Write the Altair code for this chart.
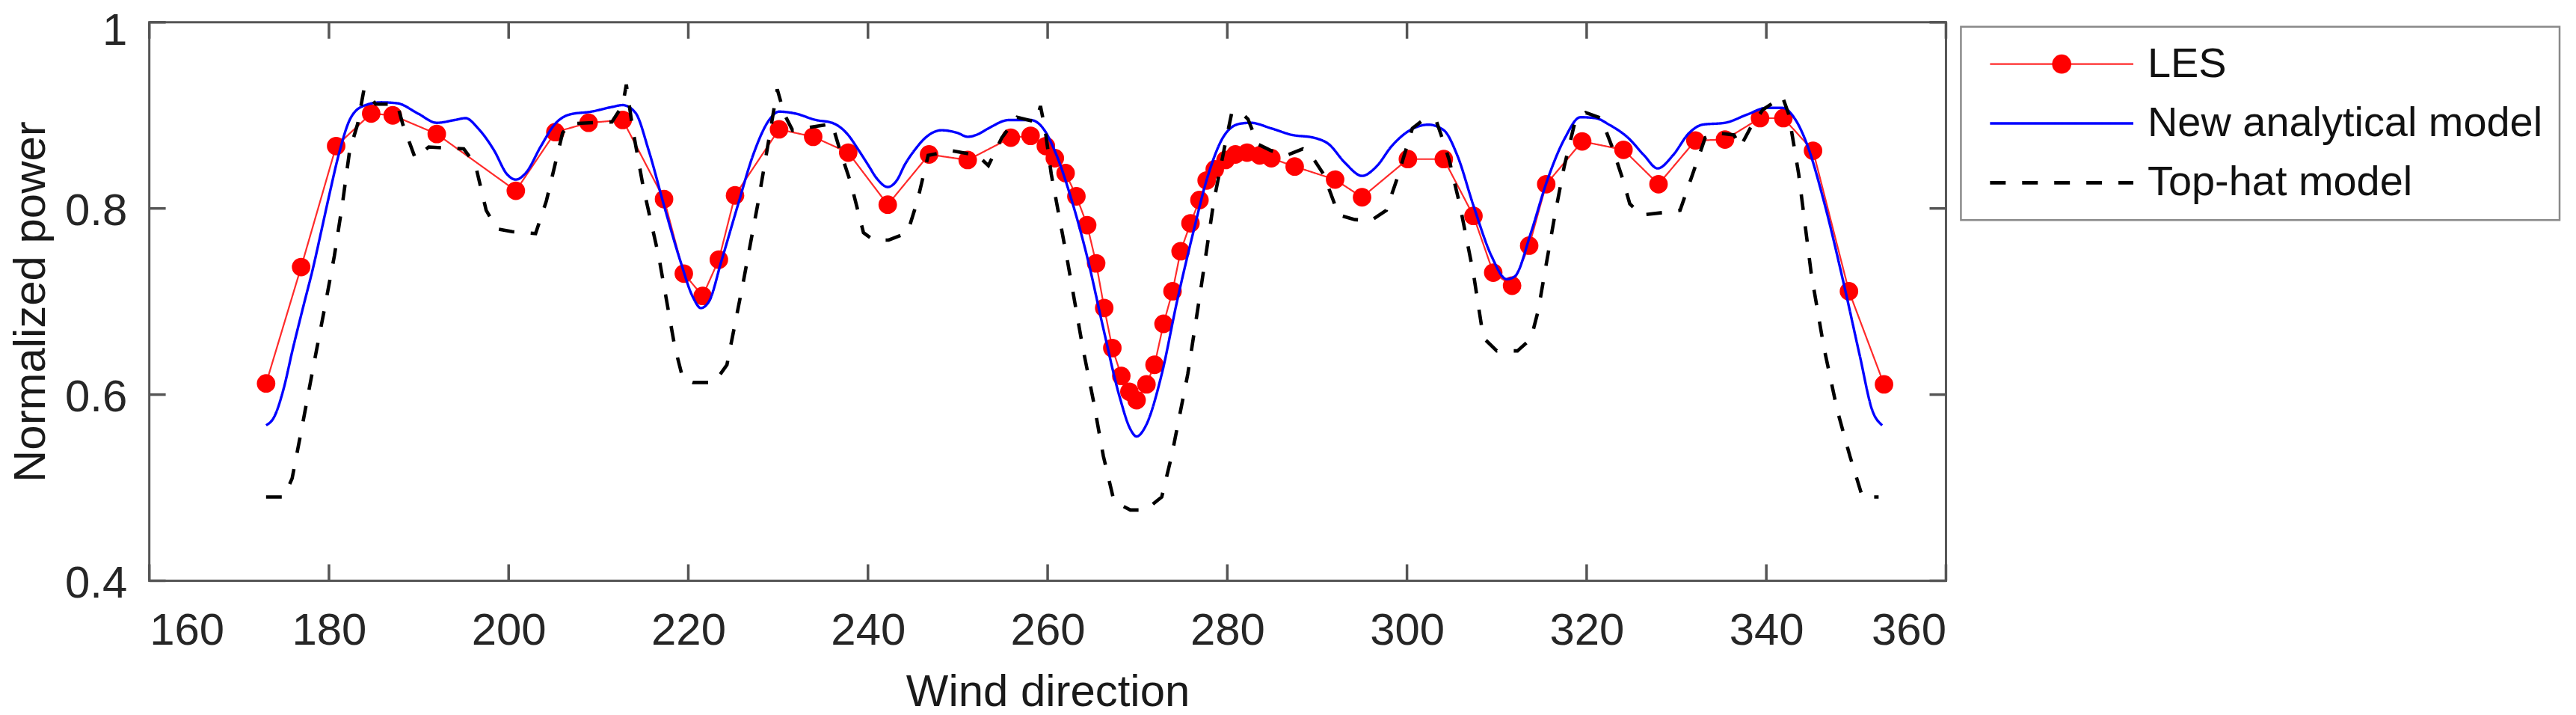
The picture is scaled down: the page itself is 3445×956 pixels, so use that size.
import altair as alt
import pandas as pd

SERIES = ["LES", "New analytical model", "Top-hat model"]
COLORS = ["#ff2a2a", "#0000ff", "#000000"]

LES_DIR = [173.0, 176.9, 180.8, 184.7, 187.1, 192.0, 200.8, 205.2, 208.9, 212.7,
           217.3, 219.5, 221.6, 223.4, 225.2, 230.1, 233.9, 237.8, 242.2, 246.8,
           251.1, 255.9, 258.1, 259.8, 260.8, 262.0, 263.2, 264.4, 265.4, 266.3,
           267.2, 268.2, 269.1, 269.9, 271.0, 271.9, 272.9, 273.9, 274.8, 275.9,
           276.9, 277.7, 278.6, 279.8, 280.9, 282.2, 283.6, 284.9, 287.5, 292.0,
           295.0, 300.1, 304.1, 307.4, 309.6, 311.7, 313.6, 315.5, 319.5, 324.1,
           328.0, 332.1, 335.4, 339.3, 341.9, 345.2, 349.2, 353.1]
LES_VAL = [0.612, 0.737, 0.867, 0.902, 0.900, 0.880, 0.819, 0.882, 0.892, 0.895,
           0.810, 0.730, 0.706, 0.745, 0.814, 0.885, 0.877, 0.860, 0.804, 0.858,
           0.852, 0.876, 0.878, 0.867, 0.854, 0.838, 0.813, 0.782, 0.741, 0.693,
           0.650, 0.620, 0.603, 0.594, 0.611, 0.632, 0.676, 0.711, 0.754, 0.784,
           0.809, 0.830, 0.842, 0.852, 0.858, 0.860, 0.857, 0.854, 0.845, 0.831,
           0.812, 0.853, 0.853, 0.792, 0.731, 0.717, 0.760, 0.826, 0.872, 0.863,
           0.826, 0.873, 0.874, 0.897, 0.897, 0.862, 0.711, 0.611]

NEW_DIR = [173.0, 173.9, 175.0, 175.9, 177.1, 178.3, 179.2, 180.0, 181.2, 182.3,
           183.8, 185.8, 187.6, 189.9, 192.0, 194.0, 195.2, 196.6, 198.4, 199.8,
           200.8, 201.9, 203.6, 205.1, 206.8, 209.2, 211.5, 212.7, 214.1, 215.6,
           217.3, 219.1, 220.5, 221.4, 222.3, 223.7, 225.5, 227.2, 229.0, 230.1,
           231.9, 234.2, 236.0, 237.7, 239.0, 240.0, 241.0, 242.2, 243.2, 244.1,
           245.3, 246.4, 248.2, 250.0, 251.1, 252.3, 253.4, 255.7, 258.1, 259.5,
           261.0, 262.7, 264.5, 266.2, 268.0, 269.2, 269.9, 270.9, 272.7, 274.4,
           276.2, 277.9, 279.7, 281.4, 282.6, 284.9, 287.2, 289.6, 291.3, 293.1,
           295.0, 296.6, 298.3, 300.7, 302.4, 304.1, 305.6, 307.4, 309.4, 311.1,
           312.0, 313.8, 315.5, 317.6, 319.3, 321.0, 322.5, 324.6, 326.4, 327.9,
           329.6, 331.4, 332.9, 335.4, 337.9, 340.0, 341.8, 343.2, 344.6, 346.4,
           348.6, 350.4, 351.8, 352.9]
NEW_VAL = [0.567, 0.576, 0.608, 0.646, 0.693, 0.739, 0.778, 0.813, 0.862, 0.895,
           0.910, 0.914, 0.913, 0.902, 0.892, 0.895, 0.897, 0.886, 0.862, 0.837,
           0.831, 0.838, 0.867, 0.890, 0.901, 0.904, 0.909, 0.911, 0.903, 0.862,
           0.803, 0.744, 0.705, 0.693, 0.700, 0.744, 0.803, 0.857, 0.895, 0.904,
           0.902, 0.895, 0.892, 0.880, 0.862, 0.847, 0.832, 0.823, 0.830, 0.847,
           0.864, 0.876, 0.884, 0.881, 0.877, 0.880, 0.886, 0.895, 0.895, 0.886,
           0.857, 0.808, 0.744, 0.671, 0.598, 0.563, 0.555, 0.566, 0.622, 0.700,
           0.774, 0.837, 0.879, 0.891, 0.892, 0.886, 0.879, 0.876, 0.869, 0.849,
           0.835, 0.845, 0.867, 0.886, 0.890, 0.884, 0.857, 0.803, 0.749, 0.724,
           0.727, 0.774, 0.827, 0.876, 0.898, 0.897, 0.890, 0.876, 0.857, 0.843,
           0.857, 0.881, 0.890, 0.892, 0.901, 0.908, 0.908, 0.896, 0.867, 0.808,
           0.720, 0.642, 0.583, 0.567]

TH_DIR = [173.0, 175.0, 175.9, 177.0, 178.3, 179.5, 180.6, 181.5, 182.3, 183.2,
          183.9, 185.2, 187.6, 188.2, 189.6, 191.1, 195.0, 196.3, 197.5, 198.7,
          200.4, 203.0, 204.2, 206.0, 206.8, 211.5, 212.7, 213.1, 213.8, 215.0,
          216.7, 218.5, 219.4, 220.5, 222.9, 224.3, 226.1, 227.8, 229.0, 229.9,
          230.7, 231.6, 236.0, 236.9, 238.1, 239.5, 240.6, 242.3, 244.4, 245.5,
          246.7, 249.3, 252.2, 253.4, 254.9, 256.6, 258.7, 259.2, 259.7, 260.4,
          262.2, 263.9, 265.1, 266.2, 267.4, 269.2, 270.9, 272.7, 273.8, 275.6,
          277.0, 278.5, 279.7, 280.5, 281.4, 282.3, 283.4, 284.9, 286.6, 288.4,
          289.2, 290.7, 292.4, 294.2, 296.0, 297.7, 298.9, 300.6, 301.8, 303.3,
          303.8, 304.7, 305.9, 307.4, 308.5, 310.0, 312.3, 313.8, 314.6, 315.5,
          316.5, 317.5, 318.7, 319.9, 321.6, 322.8, 324.0, 324.8, 326.1, 328.9,
          330.4, 331.8, 333.2, 334.6, 336.4, 337.1, 338.2, 339.6, 340.7, 341.8,
          342.5, 343.6, 345.0, 346.4, 347.9, 349.3, 350.7, 352.5]
TH_VAL = [0.490, 0.490, 0.510, 0.565, 0.632, 0.692, 0.749, 0.805, 0.862, 0.891,
          0.928, 0.912, 0.912, 0.891, 0.854, 0.866, 0.864, 0.847, 0.798, 0.778,
          0.775, 0.773, 0.808, 0.881, 0.891, 0.893, 0.911, 0.933, 0.886, 0.822,
          0.749, 0.651, 0.617, 0.613, 0.613, 0.632, 0.720, 0.808, 0.876, 0.928,
          0.901, 0.884, 0.891, 0.862, 0.827, 0.774, 0.766, 0.766, 0.774, 0.808,
          0.857, 0.862, 0.857, 0.846, 0.876, 0.898, 0.893, 0.910, 0.886, 0.837,
          0.744, 0.651, 0.593, 0.534, 0.485, 0.476, 0.476, 0.490, 0.534, 0.622,
          0.710, 0.808, 0.866, 0.903, 0.904, 0.896, 0.869, 0.862, 0.857, 0.864,
          0.859, 0.837, 0.793, 0.788, 0.787, 0.798, 0.832, 0.886, 0.895, 0.893,
          0.879, 0.852, 0.803, 0.730, 0.661, 0.647, 0.647, 0.660, 0.690, 0.740,
          0.795, 0.845, 0.893, 0.903, 0.897, 0.867, 0.832, 0.805, 0.793, 0.796,
          0.798, 0.837, 0.876, 0.881, 0.879, 0.866, 0.886, 0.906, 0.913, 0.920,
          0.901, 0.837, 0.730, 0.651, 0.583, 0.534, 0.490, 0.490]

X_TICKS = [160, 180, 200, 220, 240, 260, 280, 300, 320, 340, 360]
Y_TICKS = [0.4, 0.6, 0.8, 1.0]

les = pd.DataFrame({"dir": LES_DIR, "val": LES_VAL, "series": SERIES[0]})
new = pd.DataFrame({"dir": NEW_DIR, "val": NEW_VAL, "series": SERIES[1]})
th = pd.DataFrame({"dir": TH_DIR, "val": TH_VAL, "series": SERIES[2]})
xt = pd.DataFrame({"dir": X_TICKS})
yt = pd.DataFrame({"val": Y_TICKS})

FONT = "Liberation Sans"
FRAME = "#555555"
W, H = 2407, 748
T = 22  # inward tick length (MATLAB-style box ticks)
DASH = [21, 22]

xs = alt.Scale(domain=[160, 360], nice=False, zero=False)
ys = alt.Scale(domain=[0.4, 1.0], nice=False, zero=False)

x_axis = alt.Axis(
    orient="bottom", values=X_TICKS, format="d", title="Wind direction",
    ticks=False, tickSize=0, domain=False, grid=False, labelPadding=38, titlePadding=23)
y_axis = alt.Axis(
    orient="left", values=Y_TICKS, format="~g", title="Normalized power",
    ticks=False, tickSize=0, domain=False, grid=False, labelPadding=30,
    labelOffset={"condition": {"test": "datum.value > 0.99", "value": 12}, "value": 4},
    titlePadding=14)

X = alt.X("dir:Q", scale=xs, axis=x_axis)
Y = alt.Y("val:Q", scale=ys, axis=y_axis)

LINE_PATH = "M-6.4,0H6.4"

line_legend = alt.Legend(
    title=None, orient="none", legendX=2427, legendY=6,
    symbolType=LINE_PATH, symbolSize=900,
    labelFont=FONT, labelFontSize=56, labelColor="#111111", labelLimit=1200,
    labelOffset=87, symbolOffset=85, padding=22, rowPadding=23.5,
    strokeColor="#8a8a8a", fillColor="white", zindex=1,
)
dot_legend = alt.Legend(
    title=None, orient="none", legendX=2549, legendY=43,
    symbolType="circle", symbolSize=660, symbolFillColor="#ff0000",
    symbolStrokeWidth=0, symbolOffset=0, padding=0,
    labelFontSize=10, labelExpr="''", zindex=2,
)

color = alt.Color("series:N", scale=alt.Scale(domain=SERIES, range=COLORS), legend=line_legend)
dash = alt.StrokeDash("series:N", scale=alt.Scale(domain=SERIES, range=[[1, 0], [1, 0], DASH]),
                      legend=line_legend)
width = alt.StrokeWidth("series:N", scale=alt.Scale(domain=SERIES, range=[2.2, 4.6, 4.6]),
                        legend=line_legend)

tick = dict(color=FRAME, strokeWidth=3.5)
ticks_bottom = alt.Chart(xt).mark_rule(**tick).encode(x=X, y=alt.value(H - T), y2=alt.value(H))
ticks_top = alt.Chart(xt).mark_rule(**tick).encode(x=X, y=alt.value(0), y2=alt.value(T))
ticks_left = alt.Chart(yt).mark_rule(**tick).encode(y=Y, x=alt.value(0), x2=alt.value(T))
ticks_right = alt.Chart(yt).mark_rule(**tick).encode(y=Y, x=alt.value(W - T), x2=alt.value(W))

les_line = alt.Chart(les).mark_line().encode(
    x=X, y=Y, color=color, strokeDash=dash, strokeWidth=width)
les_pts = alt.Chart(les).mark_point(filled=True, size=616, opacity=1, color="#ff0000").encode(
    x=X, y=Y,
    shape=alt.Shape("series:N", scale=alt.Scale(domain=["LES"], range=["circle"]), legend=dot_legend))
new_line = alt.Chart(new).mark_line(interpolate="monotone").encode(
    x=X, y=Y, color=color, strokeDash=dash, strokeWidth=width)
th_line = alt.Chart(th).mark_line().encode(
    x=X, y=Y, color=color, strokeDash=dash, strokeWidth=width)

chart = alt.layer(
    ticks_bottom, ticks_top, ticks_left, ticks_right,
    les_line, les_pts, new_line, th_line
).properties(
    width=W, height=H,
    autosize=alt.AutoSizeParams(type="none"),
    padding={"left": 192, "top": 21, "right": 836, "bottom": 180},
).configure_view(
    stroke=FRAME, strokeWidth=3
).configure_axis(
    labelFont=FONT, labelFontSize=60, labelColor="#262626",
    titleFont=FONT, titleFontSize=60, titleFontWeight="normal", titleColor="#1a1a1a",
).configure_legend(
    strokeWidth=2.5
)

chart.save("out.html", embed_options={"renderer": "svg", "actions": False})
